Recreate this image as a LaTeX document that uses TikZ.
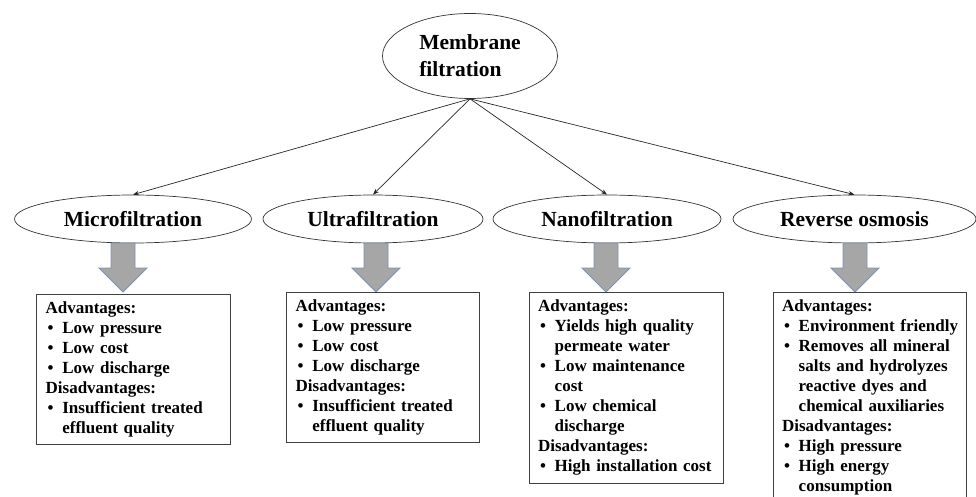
\documentclass[tikz,border=0pt]{standalone}
\usepackage{fontspec}
\setmainfont{Liberation Serif}
\usetikzlibrary{shapes.geometric,arrows.meta}
\definecolor{arrowfill}{RGB}{166,166,166}
\definecolor{arrowline}{RGB}{124,146,176}
\newcommand{\itm}[1]{\mbox{\hspace*{2pt}\makebox[14.7pt][l]{\textbullet}#1}}
\newcommand{\cnt}[1]{\mbox{\hspace*{16.7pt}#1}}
\newcommand{\blockarr}[1]{%
  \draw[blockarrow] (#1-12,243) -- (#1+12,243) -- (#1+12,268) -- (#1+24,268)
    -- (#1,292) -- (#1-24,268) -- (#1-12,268) -- cycle;}
\tikzset{
  ell/.style={ellipse, draw=black!80, line width=0.7pt, inner sep=0pt,
    font=\fontsize{21.5}{27}\selectfont\bfseries},
  conn/.style={draw=black!85, line width=0.7pt, -{Stealth[length=6pt,width=4.5pt]}},
  infobox/.style={draw=black!75, line width=0.8pt, anchor=north, align=left,
    inner xsep=9pt, inner ysep=7.5pt, font=\fontsize{17}{20}\selectfont\bfseries},
  blockarrow/.style={fill=arrowfill, draw=arrowline, line width=0.8pt, line join=miter}
}
\begin{document}
\begin{tikzpicture}[x=1pt,y=-1pt]
\useasboundingbox (0,0) rectangle (976,497);
\node[ell, minimum width=175pt, minimum height=85pt, align=left] (top) at (470,56) {Membrane\\filtration};
\node[ell, minimum width=237pt, minimum height=48pt] (mf) at (133,219) {Microfiltration};
\node[ell, minimum width=220pt, minimum height=48pt] (uf) at (373,219) {Ultrafiltration};
\node[ell, minimum width=228pt, minimum height=48pt] (nf) at (607,219) {Nanofiltration};
\node[ell, minimum width=243pt, minimum height=48pt] (ro) at (854.5,219) {Reverse osmosis};
\draw[conn] (top.south) -- (mf.north);
\draw[conn] (top.south) -- (uf.north);
\draw[conn] (top.south) -- (nf.north);
\draw[conn] (top.south) -- (ro.north);
\blockarr{123}
\blockarr{376}
\blockarr{606}
\blockarr{855}
\node[infobox, text width=175.3pt] (b1) at (133.3,294) {Advantages:\\\itm{Low pressure}\\\itm{Low cost}\\\itm{Low discharge}\\Disadvantages:\\\itm{Insufficient treated}\\\cnt{effluent quality}};
\node[infobox, text width=174.3pt] (b2) at (382.8,292) {Advantages:\\\itm{Low pressure}\\\itm{Low cost}\\\itm{Low discharge}\\Disadvantages:\\\itm{Insufficient treated}\\\cnt{effluent quality}};
\node[infobox, text width=176pt] (b3) at (626,292) {Advantages:\\\itm{Yields high quality}\\\cnt{permeate water}\\\itm{Low maintenance}\\\cnt{cost}\\\itm{Low chemical}\\\cnt{discharge}\\Disadvantages:\\\itm{High installation cost}};
\node[infobox, text width=175pt] (b4) at (869.5,292) {Advantages:\\\itm{Environment friendly}\\\itm{Removes all mineral}\\\cnt{salts and hydrolyzes}\\\cnt{reactive dyes and}\\\cnt{chemical auxiliaries}\\Disadvantages:\\\itm{High pressure}\\\itm{High energy}\\\cnt{consumption}};
\end{tikzpicture}
\end{document}
